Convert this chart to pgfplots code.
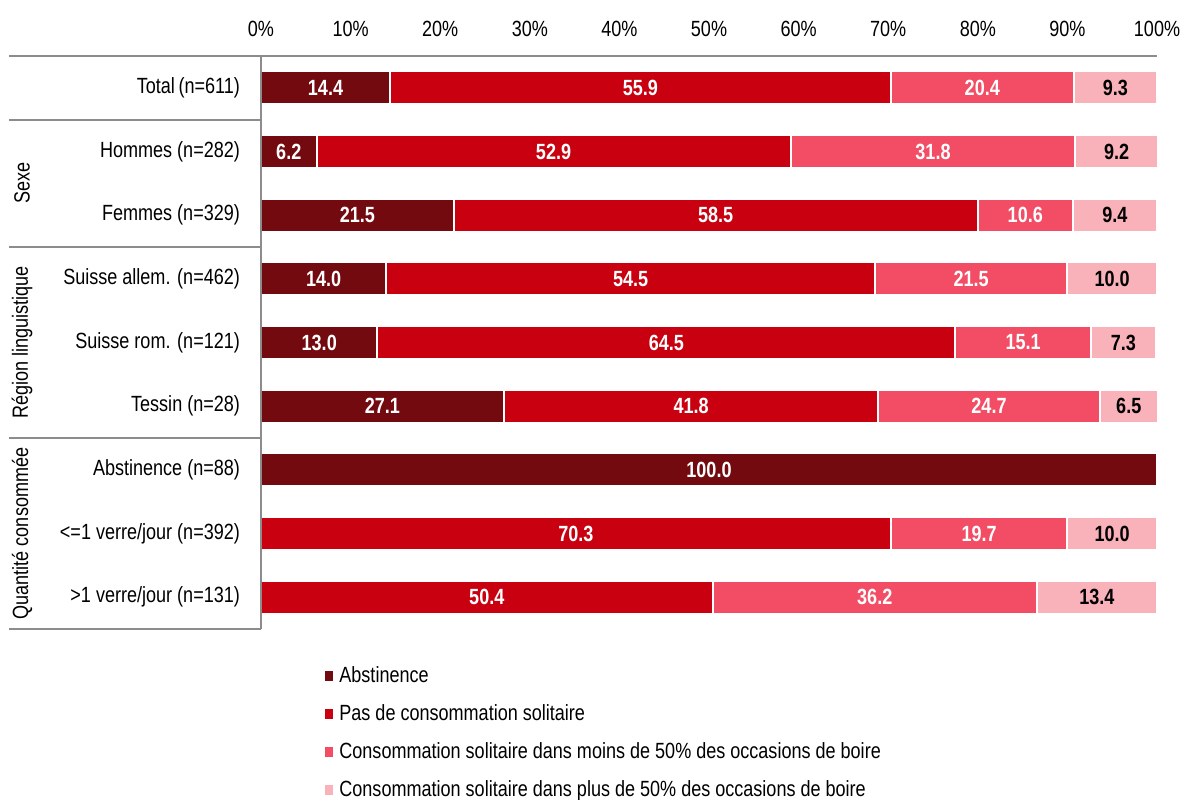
\documentclass[border=0pt]{standalone}
\usepackage{fontspec}
\setmainfont{Liberation Sans}[FakeStretch=0.82]
\usepackage{pgfplots}
\pgfplotsset{compat=1.18}
\definecolor{cA}{HTML}{730A0F}
\definecolor{cB}{HTML}{C8000F}
\definecolor{cC}{HTML}{F24D64}
\definecolor{cD}{HTML}{F9B2BA}
\definecolor{lg}{HTML}{8C8C8C}
\begin{document}
\begin{tikzpicture}
\useasboundingbox (0,0) rectangle (591.5pt,399.5pt);
\begin{axis}[
  name=ax,
  at={(130.5pt,85pt)}, anchor=south west,
  scale only axis, width=448pt, height=286.5pt,
  xbar stacked, bar width=0.52,
  xmin=0, xmax=100, ymin=-0.5, ymax=8.5, y dir=reverse,
  axis line style={draw=none},
  font=\fontsize{11pt}{13pt}\selectfont,
  /pgf/number format/assume math mode=true,
  xtick={0,10,...,100}, xticklabel pos=upper,
  xticklabel={\pgfmathprintnumber{\tick}\%},
  xticklabel style={yshift=6pt},
  major tick length=0pt,
  ytick={0,...,8},
  yticklabels={Total\,(n=611), Hommes (n=282), Femmes (n=329), Suisse allem. (n=462), Suisse rom. (n=121), Tessin (n=28), Abstinence (n=88), <=1 verre/jour (n=392), >1 verre/jour (n=131)},
  yticklabel style={xshift=-7pt},
  clip=false,
  point meta=explicit symbolic,
  nodes near coords,
  every node near coord/.append style={anchor=center, font=\fontsize{11pt}{13pt}\selectfont\bfseries, text=white},
  legend style={at={(axis description cs:0,0)}, anchor=north west, xshift=31pt, yshift=-16.5pt, draw=none, fill=none, row sep=5.6pt, font=\fontsize{11pt}{13pt}\selectfont, inner sep=0pt},
  legend cell align=left,
  legend image code/.code={\fill (-1.5pt,-3pt) rectangle (3.5pt,3pt);},
]
\addplot[fill=cA, draw=white, line width=1pt] coordinates {
 (14.4,0) [14.4] (6.2,1) [6.2] (21.5,2) [21.5] (14.0,3) [14.0] (13.0,4) [13.0] (27.1,5) [27.1] (100.0,6) [100.0] (0,7) [] (0,8) []};
\addplot[fill=cB, draw=white, line width=1pt] coordinates {
 (55.9,0) [55.9] (52.9,1) [52.9] (58.5,2) [58.5] (54.5,3) [54.5] (64.5,4) [64.5] (41.8,5) [41.8] (0,6) [] (70.3,7) [70.3] (50.4,8) [50.4]};
\addplot[fill=cC, draw=white, line width=1pt] coordinates {
 (20.4,0) [20.4] (31.8,1) [31.8] (10.6,2) [10.6] (21.5,3) [21.5] (15.1,4) [15.1] (24.7,5) [24.7] (0,6) [] (19.7,7) [19.7] (36.2,8) [36.2]};
\addplot[fill=cD, draw=white, line width=1pt, every node near coord/.append style={text=black}] coordinates {
 (9.3,0) [9.3] (9.2,1) [9.2] (9.4,2) [9.4] (10.0,3) [10.0] (7.3,4) [7.3] (6.5,5) [6.5] (0,6) [] (10.0,7) [10.0] (13.4,8) [13.4]};
\legend{Abstinence, Pas de consommation solitaire, Consommation solitaire dans moins de 50\% des occasions de boire, Consommation solitaire dans plus de 50\% des occasions de boire}
\node[rotate=90, font=\fontsize{11pt}{13pt}\selectfont] at ([xshift=-119.5pt]axis cs:0,1.5) {Sexe};
\node[rotate=90, font=\fontsize{11pt}{13pt}\selectfont] at ([xshift=-119.5pt]axis cs:0,4) {Région linguistique};
\node[rotate=90, font=\fontsize{11pt}{13pt}\selectfont] at ([xshift=-119.5pt]axis cs:0,7) {Quantité consommée};
\end{axis}
% frame lines, drawn over the bars
\draw[lg, line width=1pt] ([xshift=-126pt]ax.north west) -- (ax.north east);
\draw[lg, line width=1pt] (ax.north west) -- (ax.south west);
\draw[lg, line width=1pt] ([xshift=-126pt]ax.south west) -- (ax.south west);
\draw[lg, line width=1pt] ([xshift=-126pt,yshift=-31.833pt]ax.north west) -- ([yshift=-31.833pt]ax.north west);
\draw[lg, line width=1pt] ([xshift=-126pt,yshift=-95.5pt]ax.north west) -- ([yshift=-95.5pt]ax.north west);
\draw[lg, line width=1pt] ([xshift=-126pt,yshift=-191pt]ax.north west) -- ([yshift=-191pt]ax.north west);
\end{tikzpicture}
\end{document}
